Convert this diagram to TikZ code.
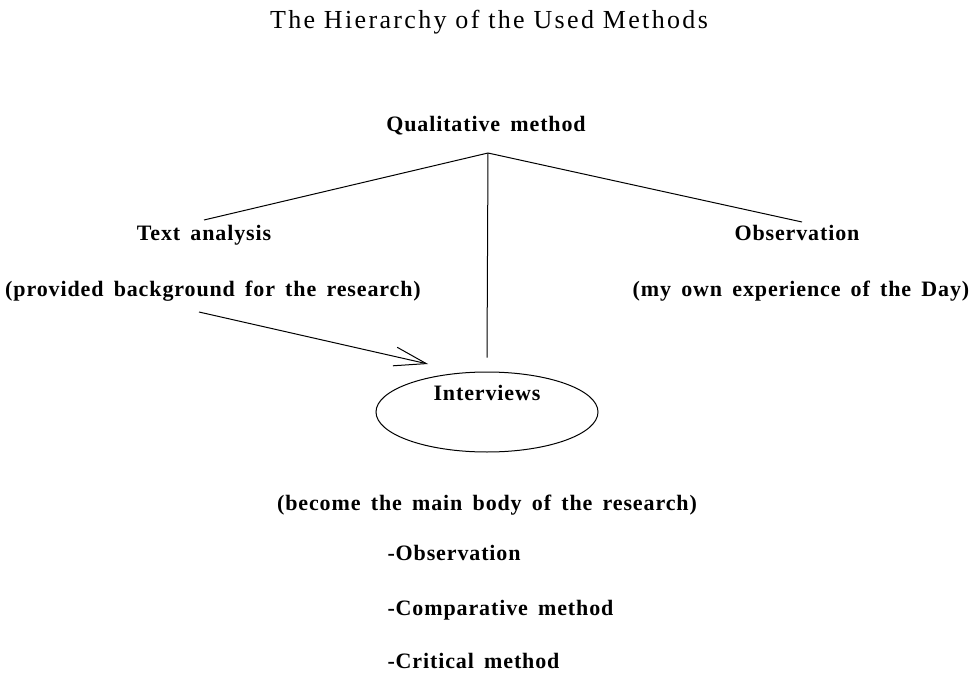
\documentclass[tikz,border=0pt]{standalone}
\usepackage{fontspec}
\setmainfont{Liberation Serif}
\newfontfamily\labelfont{Liberation Serif}[LetterSpace=4,WordSpace=1.6]
\newfontfamily\titlefont{Liberation Serif}[LetterSpace=9]
\usetikzlibrary{arrows.meta,shapes.geometric}

\begin{document}
\begin{tikzpicture}[x=1pt,y=-1pt,line width=1pt,
    lbl/.style={font={\labelfont\bfseries\fontsize{22}{26}\selectfont},
        text height=15pt,text depth=4pt,inner sep=2pt}]
    \useasboundingbox (0,0) rectangle (970,677);

    \node[font={\titlefont\fontsize{26}{30}\selectfont},anchor=base] (0) at (489,29) {The Hierarchy of the Used Methods};

    \node[lbl] (1) at (486,126) {Qualitative method};
    \node[lbl] (2) at (204,235) {Text analysis};
    \node[lbl] (3) at (797,235) {Observation};
    \node[lbl] (4) at (213,291) {(provided background for the research)};
    \node[lbl] (5) at (801,291) {(my own experience of the Day)};
    \node[shape=ellipse,draw=black,minimum width=222pt,minimum height=80pt,inner sep=0pt] (6) at (487,412) {};
    \node[lbl] (7) at (487,395) {Interviews};
    \node[lbl] (8) at (487,505) {(become the main body of the research)};
    \node[lbl,anchor=west] (9) at (385,555) {-Observation};
    \node[lbl,anchor=west] (10) at (385,610) {-Comparative method};
    \node[lbl,anchor=west] (11) at (385,663) {-Critical method};

    \coordinate (apex) at (488,153);
    \coordinate (tail) at (199,312);
    \coordinate (tip) at (428,364);

    \draw (apex) -- ([yshift=3pt]2.north);
    \draw (apex) -- ([xshift=5pt,yshift=1pt]3.north);
    \draw (apex) -- ([yshift=14pt]6.north);
    \draw[-{Straight Barb[length=32pt,width=19pt]}] (tail) -- (tip);
\end{tikzpicture}
\end{document}
